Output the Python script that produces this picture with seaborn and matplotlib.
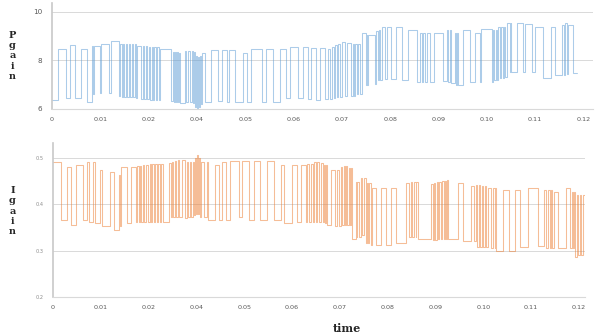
import numpy as np
import pandas as pd
import matplotlib
matplotlib.use("Agg")
import matplotlib.pyplot as plt
import seaborn as sns

# x positions are in "label slots" (10 units between two time labels, as on the
# category axis of the original chart)
x_labels = ['0', '0.01', '0.02', '0.04', '0.05', '0.06', '0.07', '0.08',
            '0.09', '0.10', '0.11', '0.12']
x_ticks = [0, 10, 20, 30, 40, 50, 60, 70, 80, 90, 100, 110]

p_ticks = [6, 8, 10]
i_ticks = [0.2, 0.3, 0.4, 0.5]

# P gain: switch instants and value after each switch
p_time = [0.0, 1.24, 2.97, 3.66, 4.69, 6.07, 7.3, 8.34, 8.5, 8.6, 9.86, 10.2,
          11.9, 12.3, 13.8, 14.1, 14.4, 14.7, 15.0, 15.3, 15.6, 15.9, 16.2,
          16.5, 16.8, 17.1, 17.4, 17.6, 18.5, 18.8, 19.1, 19.4, 19.7, 20.0,
          20.3, 20.6, 20.9, 21.2, 21.5, 21.8, 22.1, 22.3, 24.7, 25.0, 25.2,
          25.4, 25.6, 25.8, 26.0, 26.2, 26.4, 27.5, 27.8, 28.2, 28.5, 28.9,
          29.2, 29.4, 29.6, 29.8, 30.0, 30.2, 30.4, 30.6, 30.8, 31.0, 31.6,
          33.0, 34.4, 35.1, 36.2, 36.6, 37.8, 39.6, 40.3, 41.3, 43.4, 44.4,
          45.8, 47.2, 48.5, 49.2, 51.0, 52.0, 53.0, 53.7, 54.7, 55.4, 56.5,
          57.2, 57.6, 57.9, 58.3, 58.6, 59.0, 59.3, 59.6, 60.0, 60.7, 61.0,
          62.0, 62.4, 62.6, 62.8, 63.1, 63.4, 63.8, 64.1, 65.0, 65.2, 65.3,
          65.5, 66.9, 67.1, 67.4, 67.7, 68.0, 68.3, 69.0, 69.3, 70.2, 71.2,
          72.4, 73.6, 75.5, 76.2, 76.6, 76.9, 77.3, 77.6, 78.3, 79.0, 81.0,
          81.7, 82.0, 82.3, 82.7, 83.4, 83.7, 83.9, 84.1, 85.1, 86.5, 87.5,
          88.6, 88.9, 91.0, 91.3, 91.6, 91.9, 92.1, 92.4, 92.7, 93.0, 93.3,
          93.6, 93.8, 94.1, 94.9, 95.0, 95.1, 96.2, 97.5, 97.9, 99.3, 100.0,
          101.7, 103.4, 104.1, 105.5, 106.0, 106.2, 106.7, 106.9, 107.9, 108.6]
p_gain = [6.37, 8.47, 6.44, 8.64, 6.44, 8.47, 6.30, 8.58, 6.6, 8.58, 6.65, 8.70,
          6.65, 8.80, 6.55, 8.70, 6.5, 8.70, 6.5, 8.68, 6.5, 8.68, 6.5,
          8.66, 6.5, 8.66, 6.45, 8.61, 6.4, 8.58, 6.4, 8.58, 6.4, 8.56,
          6.38, 8.56, 6.38, 8.55, 6.38, 8.55, 6.38, 8.47, 6.35, 8.35, 6.3,
          8.35, 6.28, 8.33, 6.28, 8.32, 6.25, 8.4, 6.3, 8.38, 6.3, 8.4,
          6.25, 8.35, 6.1, 8.2, 6.05, 8.15, 6.1, 8.2, 6.2, 8.3, 6.3,
          8.43, 6.35, 8.43, 6.3, 8.43, 6.3, 8.3, 6.3, 8.46, 6.3, 8.46,
          6.3, 8.46, 6.44, 8.54, 6.44, 8.54, 6.4, 8.5, 6.37, 8.5, 6.40,
          8.48, 6.42, 8.55, 6.45, 8.62, 6.48, 8.66, 6.50, 8.75, 6.55, 8.72,
          6.55, 8.67, 6.55, 8.67, 6.6, 8.7, 6.62, 9.15, 7.0, 9.05, 7.0,
          9.05, 7.05, 9.2, 7.2, 9.25, 7.2, 9.4, 7.25, 9.4, 7.25, 9.4,
          7.2, 9.26, 7.13, 9.12, 7.1, 9.12, 7.1, 9.12, 7.1, 9.12, 7.15,
          9.26, 7.13, 9.26, 7.06, 9.15, 7.0, 9.15, 7.0, 9.26, 7.13, 9.12,
          7.13, 9.28, 7.13, 9.26, 7.2, 9.26, 7.2, 9.4, 7.26, 9.4, 7.26,
          9.4, 7.3, 9.53, 7.54, 9.53, 7.54, 9.53, 7.54, 9.5, 7.54, 9.4,
          7.26, 9.4, 7.4, 9.47, 7.4, 9.53, 7.45, 9.47, 7.47, 7.47]

# I gain
i_time = [0.0, 1.6, 3.0, 3.85, 4.9, 6.3, 7.2, 7.5, 8.4, 8.7, 9.8, 10.3, 11.9,
          12.7, 13.8, 14.0, 14.3, 15.4, 16.4, 17.3, 17.6, 17.9, 18.2, 18.5,
          18.8, 19.1, 19.4, 19.9, 20.2, 20.5, 20.8, 21.1, 21.4, 21.7, 22.0,
          22.3, 22.6, 23.1, 24.3, 24.6, 24.9, 25.2, 25.5, 25.8, 26.1, 26.4,
          26.9, 27.7, 28.0, 28.3, 28.6, 28.9, 29.2, 29.5, 29.8, 30.0, 30.2,
          30.4, 30.6, 30.8, 31.0, 31.5, 32.3, 32.5, 33.9, 34.7, 35.4, 36.2,
          37.1, 38.9, 39.6, 41.0, 42.0, 43.4, 44.8, 46.2, 47.6, 48.3, 50.1,
          51.1, 51.8, 52.9, 53.2, 53.6, 53.9, 54.3, 54.6, 55.0, 55.3, 55.7,
          56.0, 56.4, 56.6, 56.9, 57.1, 57.4, 58.1, 59.1, 59.5, 59.8, 60.2,
          60.5, 60.8, 61.1, 61.4, 61.6, 61.9, 62.1, 62.3, 62.6, 63.3, 63.5,
          63.6, 64.0, 64.4, 64.7, 65.0, 65.4, 65.6, 65.9, 66.1, 66.5, 66.8,
          67.5, 68.6, 69.6, 70.7, 71.7, 73.8, 74.5, 74.8, 75.2, 75.5, 75.9,
          76.0, 76.3, 79.1, 79.4, 79.7, 80.0, 80.3, 80.5, 80.8, 81.1, 81.4,
          81.7, 82.0, 82.2, 82.4, 82.6, 84.7, 85.7, 87.5, 88.0, 88.5, 88.8,
          89.1, 89.4, 89.7, 90.0, 90.3, 90.6, 91.0, 91.7, 92.0, 92.4, 92.5,
          92.7, 94.1, 95.5, 96.6, 97.6, 99.4, 101.4, 102.8, 103.2, 103.5,
          103.9, 104.2, 104.5, 104.9, 105.6, 107.4, 108.1, 108.5, 108.7,
          108.9, 109.3, 109.6, 109.9, 110.2, 110.5, 110.8, 111.2]
i_gain = [0.492, 0.366, 0.481, 0.355, 0.485, 0.366, 0.492, 0.362, 0.492, 0.359,
          0.474, 0.353, 0.470, 0.344, 0.463, 0.352, 0.481, 0.359, 0.481, 0.362,
          0.483, 0.362, 0.483, 0.362, 0.485, 0.362, 0.485, 0.362, 0.487, 0.362,
          0.487, 0.362, 0.487, 0.362, 0.487, 0.362, 0.487, 0.362, 0.489, 0.373,
          0.492, 0.373, 0.494, 0.373, 0.496, 0.373, 0.496, 0.370, 0.490, 0.373,
          0.490, 0.373, 0.490, 0.377, 0.500, 0.380, 0.506, 0.380, 0.500, 0.373,
          0.490, 0.373, 0.492, 0.366, 0.485, 0.366, 0.492, 0.366, 0.494, 0.373,
          0.494, 0.366, 0.494, 0.366, 0.494, 0.366, 0.485, 0.360, 0.485, 0.362,
          0.485, 0.362, 0.487, 0.362, 0.487, 0.362, 0.490, 0.362, 0.490, 0.362,
          0.488, 0.362, 0.485, 0.360, 0.485, 0.355, 0.474, 0.352, 0.474, 0.352,
          0.481, 0.355, 0.483, 0.355, 0.483, 0.355, 0.478, 0.355, 0.478, 0.326,
          0.449, 0.330, 0.449, 0.330, 0.456, 0.334, 0.456, 0.316, 0.445, 0.316,
          0.445, 0.312, 0.434, 0.312, 0.434, 0.312, 0.434, 0.316, 0.445, 0.330,
          0.447, 0.330, 0.447, 0.330, 0.447, 0.326, 0.443, 0.323, 0.445, 0.323,
          0.447, 0.326, 0.447, 0.326, 0.450, 0.326, 0.450, 0.326, 0.452, 0.326,
          0.445, 0.320, 0.440, 0.320, 0.442, 0.308, 0.442, 0.308, 0.440, 0.308,
          0.440, 0.308, 0.436, 0.305, 0.436, 0.305, 0.436, 0.300, 0.431, 0.300,
          0.431, 0.308, 0.436, 0.309, 0.430, 0.305, 0.430, 0.305, 0.430, 0.305,
          0.426, 0.306, 0.434, 0.305, 0.426, 0.305, 0.426, 0.287, 0.420, 0.290,
          0.420, 0.290, 0.420, 0.290]

df_p = pd.DataFrame({'time': p_time, 'gain': p_gain})
df_i = pd.DataFrame({'time': i_time, 'gain': i_gain})

sns.set_style('white')

fig = plt.figure(figsize=(5.97, 3.35), dpi=100)
ax1 = fig.add_axes([52 / 597, 1 - 109 / 335, 541 / 597, 106 / 335])
ax2 = fig.add_axes([53 / 597, 1 - 297 / 335, 532 / 597, 154 / 335])

sns.lineplot(data=df_p, x='time', y='gain', ax=ax1, estimator=None, sort=False,
             drawstyle='steps-post', color='#5B9BD5', alpha=0.5, lw=0.75)
sns.lineplot(data=df_i, x='time', y='gain', ax=ax2, estimator=None, sort=False,
             drawstyle='steps-post', color='#ED7D31', alpha=0.5, lw=0.75)

ax1.set_xlim(0, 112)
ax1.set_ylim(6, 10.37)
ax2.set_xlim(0, 111.3)
ax2.set_ylim(0.2, 0.532)

ax1.set_yticks(p_ticks)
ax1.set_yticklabels([str(v) for v in p_ticks])
ax2.set_yticks(i_ticks)
ax2.set_yticklabels([f'{v:.1f}' for v in i_ticks])

for ax in (ax1, ax2):
    ax.set_xticks(x_ticks)
    ax.set_xticklabels(x_labels)
    ax.set_xlabel('')
    ax.set_ylabel('')
    ax.yaxis.grid(True, color='#d9d9d9', lw=0.7)
    ax.set_axisbelow(True)
    ax.spines['top'].set_visible(False)
    ax.spines['right'].set_visible(False)
    ax.spines['left'].set_color('#c8c8c8')
    ax.spines['left'].set_linewidth(1.2)
    ax.spines['bottom'].set_color('#d9d9d9')
    ax.spines['bottom'].set_linewidth(0.8)
    ax.tick_params(length=0)
    ax.tick_params(axis='x', labelsize=4.6, labelcolor='#595959', pad=6)

ax1.tick_params(axis='y', labelsize=5.2, labelcolor='#595959', pad=7)
ax2.tick_params(axis='y', labelsize=3.6, labelcolor='#8c8c8c', pad=7)

serif = ['DejaVu Serif']
fig.text(12.5 / 597, 1 - 56 / 335, 'P\ng\na\ni\nn', ha='center', va='center',
         fontsize=7, fontweight='bold', family=serif, linespacing=1.15)
fig.text(12.5 / 597, 1 - 211 / 335, 'I\ng\na\ni\nn', ha='center', va='center',
         fontsize=7, fontweight='bold', family=serif, linespacing=1.2)
fig.text(347 / 597, 1 - 329 / 335, 'time', ha='center', va='center',
         fontsize=8, fontweight='bold', family=serif)

fig.savefig('out.png', dpi=100)
